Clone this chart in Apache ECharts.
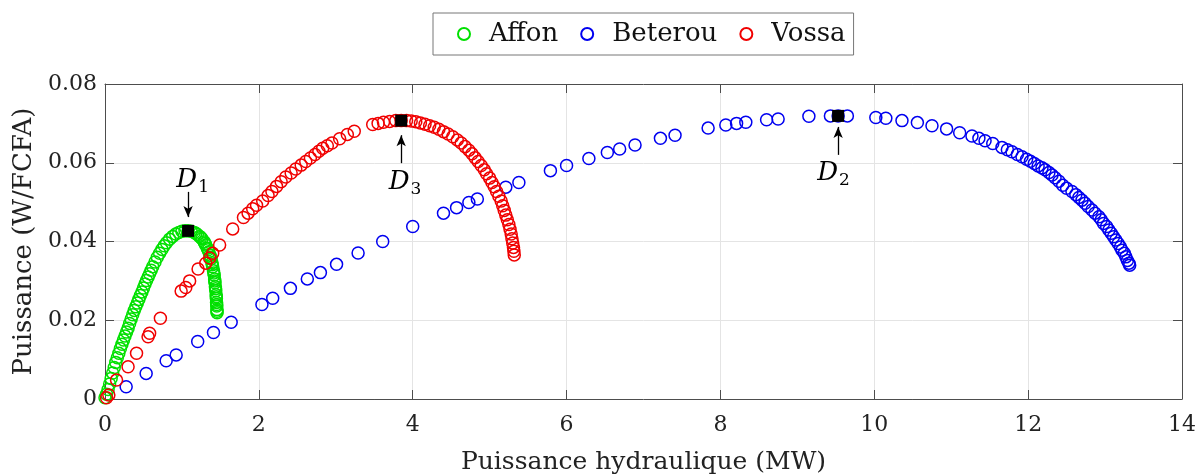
<!DOCTYPE html>
<html>
<head>
<meta charset="utf-8">
<script src="https://cdn.jsdelivr.net/npm/echarts@6/dist/echarts.min.js"></script>
<style>
html,body{margin:0;padding:0;background:#fff;}
#chart{width:1201px;height:476px;}
</style>
</head>
<body>
<div id="chart"></div>
<script>
// ---- data ----
var seriesNames = ['Affon', 'Beterou', 'Vossa'];
var xTicks = [0, 2, 4, 6, 8, 10, 12, 14];
var yTicks = [0, 0.02, 0.04, 0.06, 0.08];

var affonData = [
  [0.00,0.0003],[0.02,0.0012],[0.04,0.0024],[0.06,0.0038],[0.08,0.0052],[0.10,0.0066],
  [0.12,0.0080],[0.14,0.0093],[0.16,0.0105],[0.18,0.0116],[0.20,0.0128],[0.22,0.0139],
  [0.24,0.0150],[0.26,0.0160],[0.28,0.0170],[0.30,0.0180],[0.32,0.0192],[0.34,0.0203],
  [0.36,0.0214],[0.38,0.0225],[0.40,0.0234],[0.42,0.0244],[0.44,0.0253],[0.46,0.0263],
  [0.48,0.0272],[0.50,0.0282],[0.52,0.0292],[0.54,0.0301],[0.56,0.0310],[0.58,0.0318],
  [0.60,0.0327],[0.62,0.0336],[0.65,0.0348],[0.68,0.0360],[0.71,0.0370],[0.74,0.0380],
  [0.77,0.0389],[0.80,0.0397],[0.84,0.0406],[0.88,0.0413],[0.92,0.0419],[0.96,0.0423],
  [1.00,0.0426],[1.04,0.0427],[1.08,0.0427],[1.12,0.0426],[1.16,0.0423],[1.20,0.0418],
  [1.23,0.0413],[1.26,0.0407],[1.29,0.0399],[1.31,0.0391],[1.33,0.0383],[1.35,0.0374],
  [1.365,0.0365],[1.38,0.0356],[1.39,0.0346],[1.40,0.0336],[1.41,0.0326],[1.42,0.0315],
  [1.425,0.0305],[1.43,0.0295],[1.435,0.0285],[1.44,0.0275],[1.445,0.0265],[1.448,0.0255],
  [1.45,0.0245],[1.453,0.0236],[1.455,0.0227],[1.457,0.0219],
  [1.18,0.0421],[1.245,0.0410],[1.30,0.0395],[1.34,0.0379],[1.373,0.0360],[1.395,0.0341],
  [1.415,0.0320],[1.428,0.0300],[1.438,0.0280],[1.447,0.0260],[1.452,0.0240],[1.456,0.0223]
];

var beterouData = [
  [0.275,0.0031],[0.535,0.0065],[0.795,0.0097],[0.925,0.0112],[1.205,0.0146],[1.41,0.0169],
  [1.64,0.0195],[2.04,0.0240],[2.18,0.0256],[2.41,0.0281],[2.63,0.0305],[2.80,0.0321],
  [3.01,0.0342],[3.29,0.0371],[3.61,0.0400],[4.00,0.0438],[4.40,0.0472],[4.57,0.0486],
  [4.73,0.0499],[4.84,0.0508],[5.21,0.0538],[5.38,0.0550],[5.79,0.0580],[6.00,0.0593],
  [6.29,0.0611],[6.53,0.0626],[6.69,0.0635],[6.89,0.0645],[7.22,0.0662],[7.41,0.0670],
  [7.84,0.0688],[8.07,0.0696],[8.21,0.0700],[8.33,0.0703],[8.60,0.0709],[8.75,0.0711],
  [9.15,0.0718],[9.43,0.0719],[9.53,0.0719],[9.65,0.0719],[10.02,0.0715],[10.15,0.0713],
  [10.36,0.0707],[10.56,0.0702],[10.75,0.0694],[10.94,0.0686],[11.11,0.0676],[11.27,0.0668],
  [11.36,0.0662],[11.44,0.0656],[11.54,0.0649],[11.66,0.0639],[11.73,0.0633],[11.79,0.0628],
  [11.86,0.0621],[11.92,0.0615],[11.98,0.0609],[12.03,0.0604],[12.08,0.0598],[12.13,0.0592],
  [12.18,0.0587],[12.22,0.0582],[12.27,0.0575],[12.31,0.0569],[12.35,0.0562],[12.40,0.0553],
  [12.45,0.0543],[12.50,0.0535],[12.57,0.0527],[12.62,0.0519],[12.66,0.0512],[12.70,0.0505],
  [12.74,0.0497],[12.78,0.0489],[12.83,0.0480],[12.87,0.0472],[12.92,0.0463],[12.95,0.0455],
  [12.98,0.0446],[13.02,0.0438],[13.05,0.0429],[13.08,0.0421],[13.11,0.0412],[13.14,0.0404],
  [13.17,0.0395],[13.20,0.0386],[13.22,0.0378],[13.25,0.0370],[13.27,0.0361],[13.29,0.0352],
  [13.31,0.0345],[13.32,0.0340]
];

var vossaData = [
  [0.02,0.0003],[0.05,0.0010],[0.15,0.0048],[0.30,0.0082],[0.41,0.0116],[0.56,0.0158],
  [0.58,0.0167],[0.72,0.0205],[0.99,0.0274],[1.05,0.0283],[1.10,0.0300],[1.21,0.0330],
  [1.31,0.0345],[1.36,0.0358],[1.40,0.0370],[1.49,0.0391],[1.66,0.0432],[1.80,0.0461],
  [1.86,0.0472],[1.92,0.0483],[1.97,0.0492],[2.05,0.0503],[2.12,0.0517],[2.17,0.0527],
  [2.23,0.0540],[2.29,0.0552],[2.35,0.0564],[2.42,0.0574],[2.48,0.0584],[2.55,0.0594],
  [2.61,0.0603],[2.67,0.0612],[2.73,0.0621],[2.78,0.0629],[2.83,0.0637],[2.89,0.0643],
  [2.95,0.0650],[3.05,0.0661],[3.15,0.0672],[3.24,0.0680],[3.48,0.0697],[3.55,0.0700],
  [3.62,0.0703],[3.70,0.0705],[3.78,0.0707],[3.85,0.0707],[3.92,0.0707],[3.98,0.0706],
  [4.04,0.0704],[4.10,0.0701],[4.16,0.0698],[4.22,0.0694],[4.28,0.0690],[4.34,0.0685],
  [4.40,0.0679],[4.46,0.0673],[4.52,0.0666],[4.58,0.0658],[4.63,0.0650],[4.68,0.0641],
  [4.73,0.0632],[4.77,0.0623],[4.81,0.0613],[4.85,0.0603],[4.89,0.0593],[4.93,0.0582],
  [4.96,0.0572],[5.00,0.0561],[5.03,0.0550],[5.06,0.0539],[5.09,0.0527],[5.12,0.0515],
  [5.15,0.0503],[5.17,0.0491],[5.19,0.0479],[5.21,0.0467],[5.23,0.0455],[5.25,0.0443],
  [5.265,0.0431],[5.28,0.0419],[5.29,0.0407],[5.30,0.0396],[5.31,0.0385],[5.315,0.0375],
  [5.32,0.0366]
];

// optimum points D1, D3, D2
var optimumPoints = [[1.08,0.0427],[3.85,0.0707],[9.53,0.0719]];
var optimumNames = ['1', '3', '2'];
// annotation label anchors and arrow spans (data units)
var labelAnchors = [[1.14,0.0556],[3.90,0.0551],[9.47,0.0574]];
var arrowSpans = [[1.08,0.0526,0.0462],[3.85,0.0599,0.0670],[9.53,0.0620,0.0691]];

// ---- chart ----
var FONT = 'DejaVu Serif';
var colors = {Affon:'#00e000', Beterou:'#0000f0', Vossa:'#f00000'};
var chart = echarts.init(document.getElementById('chart'), null, {renderer:'canvas'});

function scatter(name, data){
  return {
    name: name, type: 'scatter', data: data, symbol: 'circle', symbolSize: 12,
    xAxisIndex: 0, yAxisIndex: 0,
    itemStyle: {color: 'rgba(255,255,255,0)', borderColor: colors[name], borderWidth: 1.5, opacity: 1},
    emphasis: {disabled: true}, animation: false
  };
}

var axisLineStyle = {color: '#4d4d4d', width: 1};
var option = {
  backgroundColor: '#fff',
  animation: false,
  grid: {left: 105, right: 19, top: 84, bottom: 77, containLabel: false, outerBoundsMode: 'none'},
  legend: {
    data: seriesNames, left: 433, top: 13, orient: 'horizontal',
    borderColor: '#777', borderWidth: 1, backgroundColor: '#fff',
    padding: [6, 8, 6, 24], itemGap: 22, itemWidth: 12, itemHeight: 12,
    icon: 'circle',
    textStyle: {fontFamily: FONT, fontSize: 26, color: '#111', lineHeight: 30, padding: [0,0,0,14]}
  },
  xAxis: [{
    type: 'value', min: 0, max: 14, interval: 2, position: 'bottom',
    name: 'Puissance hydraulique (MW)', nameLocation: 'middle', nameGap: 51,
    nameTextStyle: {fontFamily: FONT, fontSize: 25, color: '#222'},
    axisLine: {show: true, onZero: false, lineStyle: axisLineStyle},
    axisTick: {show: true, inside: true, length: 9, lineStyle: axisLineStyle},
    axisLabel: {fontFamily: FONT, fontSize: 22, color: '#222', margin: 15,
      formatter: function(v){ return xTicks.indexOf(v) >= 0 ? String(v) : ''; }},
    splitLine: {show: true, lineStyle: {color: '#e4e4e4', width: 1}}
  }, {
    type: 'value', min: 0, max: 14, interval: 2, position: 'top',
    axisLine: {show: true, onZero: false, lineStyle: axisLineStyle},
    axisTick: {show: true, inside: true, length: 9, lineStyle: axisLineStyle},
    axisLabel: {show: false}, splitLine: {show: false}
  }],
  yAxis: [{
    type: 'value', min: 0, max: 0.08, interval: 0.02, position: 'left',
    name: 'Puissance (W/FCFA)', nameLocation: 'middle', nameGap: 56, nameRotate: 90,
    nameTextStyle: {fontFamily: FONT, fontSize: 26, color: '#222'},
    axisLine: {show: true, onZero: false, lineStyle: axisLineStyle},
    axisTick: {show: true, inside: true, length: 9, lineStyle: axisLineStyle},
    axisLabel: {fontFamily: FONT, fontSize: 22, color: '#222', margin: 8,
      formatter: function(v){
        var r = Math.round(v * 100) / 100;
        return r === 0 ? '0' : r.toFixed(2);
      }},
    splitLine: {show: true, lineStyle: {color: '#e4e4e4', width: 1}}
  }, {
    type: 'value', min: 0, max: 0.08, interval: 0.02, position: 'right',
    axisLine: {show: true, onZero: false, lineStyle: axisLineStyle},
    axisTick: {show: true, inside: true, length: 9, lineStyle: axisLineStyle},
    axisLabel: {show: false}, splitLine: {show: false}
  }],
  series: [
    scatter('Affon', affonData),
    scatter('Beterou', beterouData),
    scatter('Vossa', vossaData),
    {
      name: 'optimum', type: 'scatter', data: optimumPoints, symbol: 'rect', symbolSize: 12,
      itemStyle: {color: '#000', opacity: 1}, z: 5, emphasis: {disabled: true},
      markLine: {
        silent: true, symbol: ['none', 'arrow'], symbolSize: [7, 11], animation: false,
        label: {show: false},
        lineStyle: {color: '#000', width: 1.3, type: 'solid', opacity: 1},
        data: arrowSpans.map(function(a){ return [{coord: [a[0], a[1]]}, {coord: [a[0], a[2]]}]; })
      }
    },
    {
      name: 'labels', type: 'scatter', symbolSize: 0, z: 6,
      itemStyle: {opacity: 1},
      data: labelAnchors.map(function(p, i){ return {value: p, sub: optimumNames[i]}; }),
      label: {
        show: true, position: 'inside', opacity: 1,
        formatter: function(p){ return '{d|D}{n|' + optimumNames[p.dataIndex] + '}'; },
        rich: {
          d: {fontFamily: FONT, fontStyle: 'italic', fontSize: 26, color: '#000'},
          n: {fontFamily: FONT, fontSize: 17, color: '#000', padding: [16, 0, 0, 1]}
        }
      },
      emphasis: {disabled: true}
    }
  ]
};
chart.setOption(option);
</script>
</body>
</html>
